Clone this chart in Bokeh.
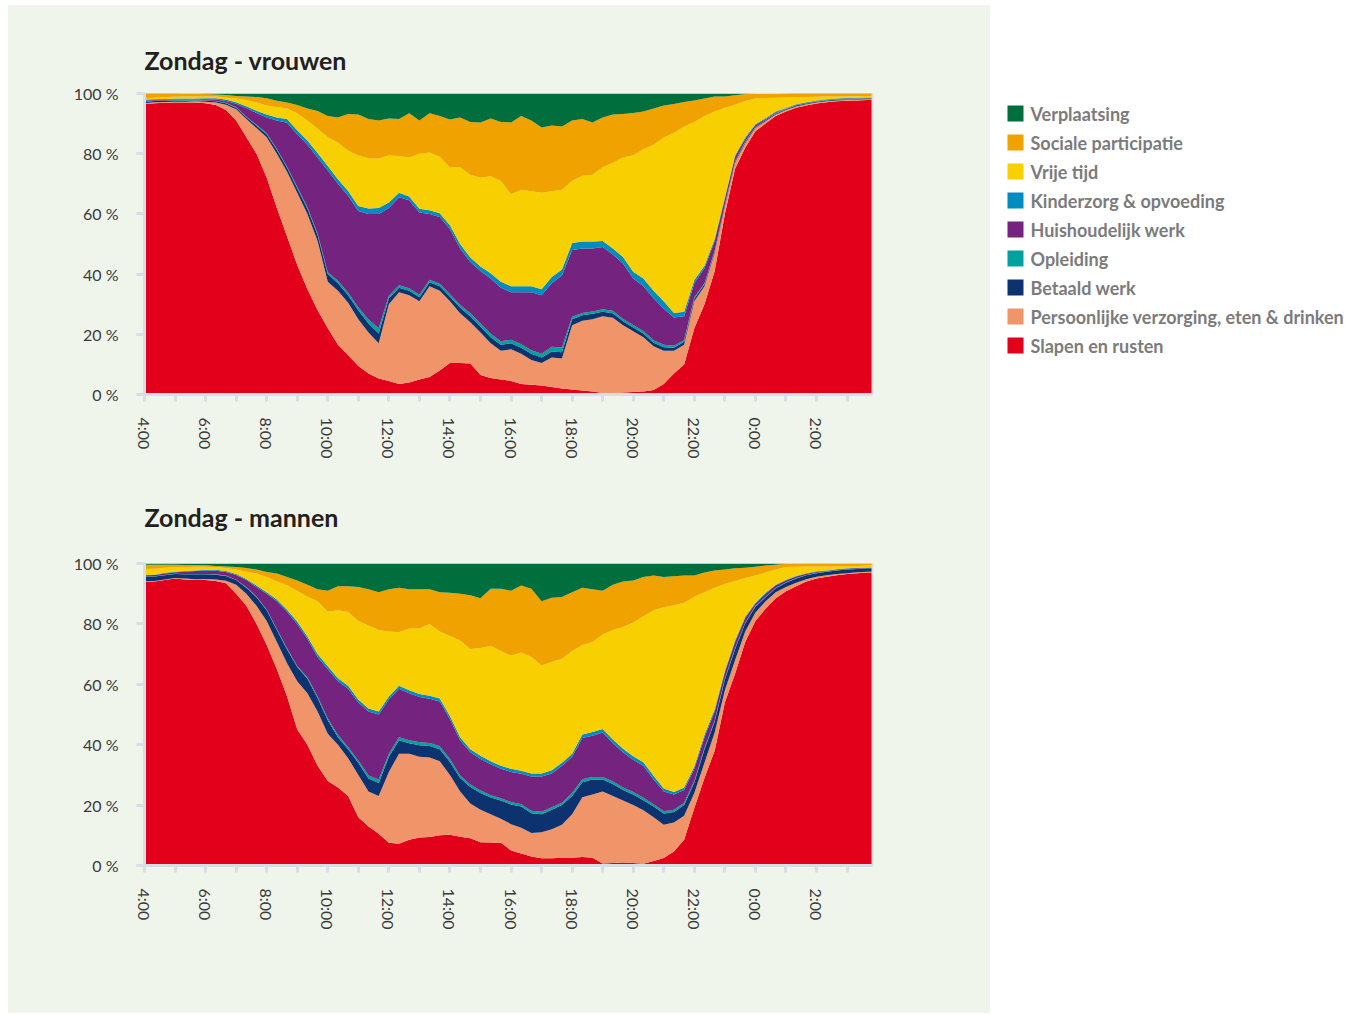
from bokeh.plotting import figure
from bokeh.models import ColumnDataSource, Range1d, FixedTicker, LinearAxis
from bokeh.layouts import row, column
from bokeh.embed import file_html
from bokeh.resources import INLINE
from bokeh.core.properties import value

# ---------------- data ----------------
categorieen = ["Slapen en rusten", "Persoonlijke verzorging, eten & drinken", "Betaald werk",
               "Opleiding", "Huishoudelijk werk", "Kinderzorg & opvoeding", "Vrije tijd",
               "Sociale participatie", "Verplaatsing"]
kleuren = ["#e2001a", "#f0956a", "#0d3270", "#00a19e", "#74237f", "#008cbf", "#f8cf00",
           "#efa200", "#006f3d"]

# time of day in hours (4:00 .. 3:50 next day), 20-minute steps
tijd = [4 + i / 3 for i in range(72)] + [27 + 50 / 60]
uren = list(range(4, 28))
uur_labels = {h: (f"{h % 24}:00" if h % 2 == 0 else "") for h in uren}
pct_ticks = [0, 20, 40, 60, 80, 100]

# ---- Zondag - vrouwen ----
slapen_v = [96.5, 96.8, 96.9, 97, 97, 97, 96.8, 96.2, 94.5, 91,
            85.5, 80, 72, 62, 52.5, 43, 35, 28, 22, 16.5,
            13, 9.5, 7, 5.3, 4.5, 3.5, 4, 5, 5.8, 8,
            10.5, 10.5, 10.3, 6.5, 5.5, 5, 4.5, 3.5, 3.2, 3,
            2.5, 2, 1.7, 1.3, 1, .5, .5, .7, .8, 1,
            1.5, 3.5, 7, 10, 22, 30, 41, 60, 75, 82,
            87.5, 90, 92.5, 94, 95.3, 96, 96.7, 97.1, 97.4, 97.6,
            97.7, 97.8, 97.8]
pers_v = [.3, .3, .3, .3, .3, .4, .5, .8, 1.8, 3.8,
          6, 8.5, 13.5, 18, 21.5, 24, 25, 23, 15.5, 18,
          17.5, 15.5, 13.6, 11.7, 25.5, 30.5, 29, 26, 30.2, 26.5,
          20.5, 16.5, 13.7, 14.1, 11.5, 9.5, 10.5, 10, 8.3, 7.5,
          9.8, 10, 21.3, 23.2, 24, 25.5, 25, 22.3, 20.2, 18,
          14.5, 11, 7.5, 6.5, 9, 6, 6, 2.5, 2, 1.5,
          1, .8, .5, .5, .4, .4, .3, .3, .3, .3,
          .3, .3, .3]
betaald_v = [.4, .4, .4, .4, .4, .3, .3, .4, .5, .5,
             .6, .8, 1, 1.2, 1.3, 1.5, 1.7, 2, 2.5, 2.5,
             2.5, 3, 3, 3.3, 2, 1.5, 1.5, 1.3, 1.3, 1.5,
             1.5, 1.8, 2, 2, 2, 2, 2, 2, 2, 1.8,
             2, 2, 2, 1.8, 1.8, 1.5, 1.5, 1.3, 1.3, 1.3,
             1.2, 1.2, 1, 1, .8, .6, .5, .5, .4, .4,
             .3, .3, .3, .3, .3, .3, .3, .3, .2, .2,
             .2, .2, .2]
opleiding_v = [.1, .1, .1, .1, .1, .1, .1, .1, .1, .2,
               .2, .3, .3, .4, .4, .5, .5, .5, .6, .8,
               .8, 1, 1.3, 1.7, .8, .8, .8, .8, .8, .8,
               .8, 1, 1, 1, 1.2, 1.2, 1.2, 1.2, 1.2, 1.2,
               1.6, 1.6, .8, .8, .8, .8, .8, .8, .8, .8,
               .8, .8, .7, .6, .5, .4, .3, .2, .2, .2,
               .1, .1, .1, .1, .1, .1, .1, .1, .1, .1,
               .1, .1, .1]
huish_v = [.3, .2, .2, .2, .2, .2, .4, .5, .6, 1.1,
           2.9, 3.9, 5.2, 9.4, 14.6, 17.5, 20.8, 25.2, 33.8, 32.2,
           32.2, 32, 35.1, 38, 29.2, 29.2, 29.2, 27.4, 21.9, 22.2,
           21.7, 18.7, 17, 17.4, 18.3, 17.8, 15.8, 17.3, 19.3, 19.5,
           21.1, 23.9, 22.2, 21.4, 20.9, 20.7, 18.7, 18.4, 15.4, 14.9,
           14, 12, 9.4, 7.9, 4.7, 5, 3.2, 1.8, 1.4, .9,
           .6, .3, .3, .1, .1, .1, .1, .1, .1, .1,
           .1, .1, .1]
kinder_v = [.4, .3, .3, .3, .3, .3, .3, .4, .5, .5,
            .6, .8, 1, 1, 1.2, 1.3, 1.4, 1.5, 1.5, 1.5,
            1.6, 1.6, 1.8, 2, 1.8, 1.5, 1.3, 1.2, 1.2, 1.2,
            1.2, 1.5, 1.5, 1.5, 1.8, 2, 2, 2, 2, 2,
            2, 2, 2.3, 2.3, 2.3, 2, 2, 2.2, 2.3, 2.5,
            2.5, 2.5, 1.5, 1.5, 1, .8, .7, .5, .4, .4,
            .3, .3, .3, .2, .2, .2, .2, .2, .2, .2,
            .2, .2, .2]
vrije_v = [.4, .5, .6, .6, .7, .7, .6, .6, .7, 1.2,
           2, 2.7, 3, 3.5, 3.5, 5.6, 6.6, 8.2, 9.6, 12.2,
           13.4, 16.8, 16.7, 16.4, 15.6, 12.2, 12.9, 18.3, 19.2, 18.8,
           19.2, 25.5, 27.5, 29.5, 32.2, 33.5, 30.5, 32, 31.5, 32,
           28.5, 26.5, 20.7, 21.9, 22.2, 24.5, 28.5, 33, 38.7, 43,
           48.5, 54.4, 59.9, 61.5, 52.5, 49.7, 42.3, 29.8, 16.9, 12.1,
           8.5, 6.7, 4.6, 3.5, 2.3, 1.7, 1.2, .9, .7, .6,
           .5, .5, .5]
sociale_v = [1.4, 1.2, 1.0, .9, .9, .9, .8, .7, .8, .9,
             1.2, 1.8, 2.4, 2.1, 2, 2.8, 4, 5.8, 7, 8.3,
             12.2, 13.6, 13, 12.6, 12.3, 12.3, 14.7, 11, 13, 13.5,
             16, 16.5, 17.5, 18.4, 19.2, 19.5, 23.9, 24.5, 23.5, 21.7,
             21.9, 21, 20, 18.8, 17.4, 16.5, 16, 14.5, 14, 12.5,
             12, 10.6, 9.5, 8.2, 7.2, 5.8, 5, 3.7, 3.1, 2.3,
             1.7, 1.5, 1.4, 1.2, 1.1, 1.0, .9, .8, .8, .7,
             .7, .6, .6]
verpl_v = [.2, .2, .2, .2, .1, .1, .2, .3, .5, .8,
           1.0, 1.2, 1.6, 2.4, 3, 3.8, 5, 5.8, 7.5, 8,
           6.8, 7, 8.5, 9, 8.3, 8.5, 6.6, 9, 6.6, 7.5,
           8.6, 8, 9.5, 9.6, 8.3, 9.5, 9.6, 7.5, 9, 11.3,
           10.6, 11, 9, 8.5, 9.6, 8, 7, 6.8, 6.5, 6,
           5, 4, 3.5, 2.8, 2.3, 1.7, 1, 1, .6, .2,
           0, 0, 0, .1, .2, .2, .2, .2, .2, .2,
           .2, .2, .2]

# ---- Zondag - mannen ----
slapen_m = [94, 94, 94.5, 95, 94.7, 94.5, 94.5, 94.2, 93.5, 90,
            86, 80, 73, 65, 56, 45, 40, 33, 28, 25.8,
            23, 16, 12.9, 10.5, 7.5, 7.2, 8.5, 9.3, 9.4, 10,
            10.2, 9.5, 9, 7.7, 7.6, 7.5, 5, 4, 3, 2.4,
            2.4, 2.6, 2.6, 2.8, 2.6, .7, .8, 1, .8, .6,
            1.5, 2.5, 4.6, 8.5, 19, 29, 38, 54, 63.5, 74,
            81, 85, 88.5, 90.8, 92.5, 94, 95, 95.6, 96.1, 96.5,
            96.8, 97, 97]
pers_m = [.2, .2, .2, .2, .3, .3, .4, .5, .8, 3,
          4, 6, 8, 9, 11, 16, 17, 18, 15.6, 14.2,
          12.5, 14, 11.6, 12.5, 23.5, 29.8, 28.5, 26.7, 26.4, 24.5,
          19.8, 15, 11.5, 10.8, 9.4, 8, 8.7, 8.5, 7.8, 8.6,
          9.6, 10.9, 14.4, 19.8, 20.9, 23.8, 22.2, 20.5, 19.2, 17.7,
          14.5, 11, 9.6, 8, 5, 5, 6, 4, 4.5, 3.5,
          2.8, 2.5, 2, 1.4, 1.1, .8, .6, .5, .4, .3,
          .3, .3, .3]
betaald_m = [1.5, 1.5, 1.4, 1.3, 1.4, 1.6, 1.5, 1.6, 1.6, 1.5,
             2, 2.8, 3.5, 4, 4.5, 4.7, 4.8, 4.5, 4.5, 2.5,
             3, 4, 4.3, 4.3, 5, 4.5, 3.5, 3.8, 3.8, 4,
             4.3, 4.5, 5.5, 5.5, 5.5, 6, 6.5, 7, 6.5, 6,
             6.5, 6.5, 6, 5, 5, 4, 4, 3.5, 3.5, 3.3,
             3.5, 3.7, 3.5, 3.5, 3.5, 4.5, 3.6, 3.6, 3.6, 2.7,
             1.9, 1.3, 1.3, 1.4, 1.4, 1.3, 1.2, 1.2, 1.2, 1.2,
             1.1, 1.1, 1.1]
opleiding_m = [.1, .1, .1, .1, .1, .1, .1, .1, .1, .1,
               .2, .3, .3, .3, .4, .4, .5, .5, .6, .7,
               .7, .8, 1, 1.2, 1, 1, 1, 1, 1, 1,
               1, .8, .8, .8, .8, .8, .8, .8, .8, .8,
               .8, .8, 1, 1, .8, .8, .8, .8, .8, .8,
               .8, .8, .8, .8, .5, .5, .4, .4, .4, .3,
               .3, .2, .2, .2, .2, .1, .1, .1, .1, .1,
               .1, .1, .1]
huish_m = [.3, .4, .5, .5, .8, 1.0, 1.2, 1.2, 1.2, 1.6,
           2.3, 3.1, 5.2, 9.2, 12.1, 13.9, 12.7, 13, 16.3, 17.8,
           19.3, 19.2, 21.2, 21.5, 18, 16, 15.5, 15, 14.6, 14.8,
           13.2, 11.7, 10.7, 10.5, 10.2, 9.7, 10, 10.1, 11.4, 11.7,
           11.2, 12.2, 12, 13.6, 13.7, 14.7, 12.7, 11.7, 10.7, 10.6,
           8.2, 6.5, 5, 4.2, 4, 3.5, 3, 2, 2, 1.5,
           .7, 1, .8, .6, .5, .4, .3, .2, .2, .2,
           .2, .1, .1]
kinder_m = [.1, .1, .2, .2, .2, .2, .2, .3, .3, .3,
            .4, .5, .5, .6, .7, .8, .8, 1, 1, 1,
            1, 1, 1, 1, 1, 1, 1, 1, 1, 1,
            1, 1, 1, 1, 1, 1, 1, 1, 1, 1,
            1, 1, 1, 1.2, 1.2, 1.2, 1.2, 1.2, 1.2, 1.2,
            1.2, 1, .8, .8, .8, .8, .7, .5, .5, .4,
            .3, .3, .2, .2, .2, .2, .2, .1, .1, .1,
            .1, .1, .1]
vrije_m = [2.0, 2.0, 1.7, 1.5, 1.3, 1.2, 1.0, .9, 1.0, 1.5,
           2.4, 4.0, 5.0, 5.9, 8.1, 10.2, 13.2, 17.5, 18, 22.5,
           24.4, 26, 27.5, 27, 21.5, 17.7, 20.5, 21.7, 23.8, 22.2,
           26.5, 32, 33.2, 35.7, 38.3, 38, 37.5, 39.1, 38.5, 35.7,
           36, 34.5, 34, 29.6, 29.8, 31.3, 36.3, 40.3, 44.3, 48.3,
           54.8, 60, 61.9, 61.2, 56.2, 47.2, 40.3, 28.7, 19.7, 12.8,
           9, 6.7, 5, 4.2, 3, 2.2, 1.6, 1.3, 1.0, .8,
           .6, .6, .6]
sociale_m = [1.4, 1.3, 1.0, .8, .7, .5, .5, .4, .5, .8,
             1.2, 1.3, 1.7, 2.7, 2.7, 3.4, 4, 4, 7, 8,
             8.6, 11.2, 12, 12.5, 14, 14.8, 13, 13, 11.5, 13,
             14.3, 15.5, 17.8, 16.5, 18.8, 20.6, 21.5, 22.2, 22.6, 21.3,
             21.2, 20.4, 19.5, 19, 17.5, 14.5, 15, 15, 13.9, 13,
             11.5, 10, 9.6, 9, 7, 6.5, 5.7, 4.8, 4.2, 3.4,
             2.9, 2.3, 1.6, 1.1, 1.0, .9, .9, .9, .8, .7,
             .7, .6, .6]
verpl_m = [.4, .4, .4, .4, .5, .6, .6, .8, 1.0, 1.2,
           1.5, 2, 2.8, 3.3, 4.5, 5.6, 7, 8.5, 9, 7.5,
           7.5, 7.8, 8.5, 9.5, 8.5, 8, 8.5, 8.5, 8.5, 9.5,
           9.7, 10, 10.5, 11.5, 8.4, 8.4, 9, 7.3, 8.4, 12.5,
           11.3, 11.1, 9.5, 8, 8.5, 9, 7, 6, 5.6, 4.5,
           4, 4.5, 4.2, 4, 4, 3, 2.3, 2, 1.6, 1.4,
           1.1, .7, .4, .1, .1, .1, .1, .1, .1, .1,
           .1, .1, .1]

vrouwen = [slapen_v, pers_v, betaald_v, opleiding_v, huish_v, kinder_v, vrije_v, sociale_v, verpl_v]
mannen = [slapen_m, pers_m, betaald_m, opleiding_m, huish_m, kinder_m, vrije_m, sociale_m, verpl_m]

# ---------------- styling ----------------
BG = "#f0f5ec"
AX = "#d3e0e6"
FONT = "Lato"


def make_chart(titel, reeksen, height, top, bottom, title_gap):
    keys = [f"s{i}" for i in range(len(reeksen))]
    data = {"x": tijd}
    for k, r in zip(keys, reeksen):
        data[k] = r
    src = ColumnDataSource(data)
    p = figure(width=982, height=height, output_backend="svg", toolbar_location=None,
               x_range=Range1d(tijd[0], tijd[-1]), y_range=Range1d(0, 100),
               min_border_left=136, min_border_right=118,
               min_border_top=top, min_border_bottom=bottom,
               background_fill_color=BG, border_fill_color=BG,
               outline_line_color=None)
    p.varea_stack(stackers=keys, x="x", color=kleuren, source=src)
    p.grid.visible = False

    p.title.text = titel
    p.title.text_font = FONT
    p.title.text_font_size = "25px"
    p.title.text_font_style = "bold"
    p.title.text_color = "#231f20"
    p.title.standoff = title_gap

    for ax in (p.xaxis[0], p.yaxis[0]):
        ax.axis_line_color = AX
        ax.axis_line_width = 3
        ax.major_tick_line_color = AX
        ax.major_tick_line_width = 3
        ax.major_tick_in = 0
        ax.minor_tick_line_color = None
        ax.major_label_text_font = FONT
        ax.major_label_text_font_size = "16px"
        ax.major_label_text_color = "#3a3a3a"

    p.xaxis.ticker = FixedTicker(ticks=uren)
    p.xaxis.major_label_overrides = uur_labels
    p.xaxis.major_label_orientation = "vertical"
    p.xaxis.major_tick_out = 7
    p.xaxis.major_label_standoff = 16

    p.yaxis.ticker = FixedTicker(ticks=pct_ticks)
    p.yaxis.major_label_overrides = {v: f"{v} %" for v in pct_ticks}
    p.yaxis.major_tick_out = 8
    p.yaxis.major_label_standoff = 18

    rechts = LinearAxis(ticker=FixedTicker(ticks=[]), axis_line_color="#d8e0e0",
                        axis_line_width=2, major_tick_line_color=None,
                        minor_tick_line_color=None, major_label_text_font_size="0px")
    p.add_layout(rechts, "right")
    return p


f1 = make_chart("Zondag - vrouwen", vrouwen, 459, 88, 70, 38)
f2 = make_chart("Zondag - mannen", mannen, 549, 99, 148, 63)

# ---------------- legend ----------------
leg = figure(width=354, height=459, output_backend="svg", toolbar_location=None,
             x_range=Range1d(0, 354), y_range=Range1d(459, 0),
             x_axis_type=None, y_axis_type=None, min_border=0,
             background_fill_color="white", border_fill_color="white",
             outline_line_color=None)
leg.grid.visible = False
volgorde = list(reversed(range(len(categorieen))))
leg_src = ColumnDataSource(dict(
    naam=[categorieen[k] for k in volgorde],
    kleur=[kleuren[k] for k in volgorde],
    y=[108 + 29 * j for j in range(len(volgorde))],
))
leg.rect(x=25, y="y", width=16, height=16, fill_color="kleur", line_color=None, source=leg_src)
leg.text(x=40, y="y", text="naam", text_baseline="middle", text_align="left",
         text_font=value(FONT), text_font_style="bold", text_font_size="18px",
         text_color="#7b7b7b", source=leg_src)

charts = column(f1, f2, spacing=0, styles={"background-color": BG})
layout = row(charts, leg, spacing=0, margin=(5, 0, 0, 8))
open("out.html", "w").write(file_html(layout, INLINE))
